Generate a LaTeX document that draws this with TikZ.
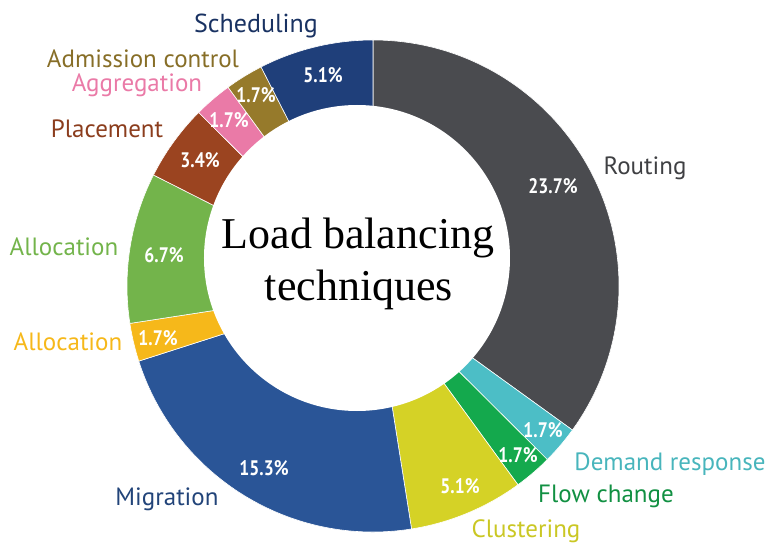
\documentclass[tikz,border=0pt]{standalone}
\usepackage{fontspec}
\setmainfont{Liberation Serif}
\newfontfamily\labelfont{PT Sans}
\newfontfamily\pctfont{PT Sans}[FakeStretch=0.84]
\usetikzlibrary{positioning}
% segment colours
\definecolor{routingc}{HTML}{4A4B4F}
\definecolor{demandc}{HTML}{4CBEC6}
\definecolor{flowc}{HTML}{14A94D}
\definecolor{clusterc}{HTML}{D5D226}
\definecolor{migrationc}{HTML}{2A5597}
\definecolor{allocyc}{HTML}{F6B81A}
\definecolor{allocgc}{HTML}{73B44B}
\definecolor{placementc}{HTML}{9B4420}
\definecolor{aggregc}{HTML}{EA7AA7}
\definecolor{admissc}{HTML}{967A2B}
\definecolor{schedc}{HTML}{1F3F7A}
\tikzset{
    %Define style for ring pieces
    segment/.style={
             draw=white, line width=0.6pt},
    %Define style for percent labels
    pctlabel/.style={
             anchor=base, inner sep=0pt,
             text=white,
             font=\pctfont\bfseries\fontsize{21}{21}\selectfont},
    %Define style for category labels
    catlabel/.style={
             anchor=base, inner sep=0pt,
             font=\labelfont\fontsize{25}{25}\selectfont},
    %Define style for the centre text
    titletext/.style={
             anchor=base, inner sep=0pt,
             font=\fontsize{44}{44}\selectfont}
}
\begin{document}
\begin{tikzpicture}[x=1pt, y=1pt]
 \useasboundingbox (-373,-258) rectangle (396,286);
 % ring, clockwise from the top
 \foreach \s/\e/\col in {90/-35.84/routingc, -35.84/-44.87/demandc,
     -44.87/-53.90/flowc, -53.90/-80.98/clusterc, -80.98/-162.22/migrationc,
     -162.22/-171.25/allocyc, -171.25/-206.82/allocgc, -206.82/-224.87/placementc,
     -224.87/-233.90/aggregc, -233.90/-242.93/admissc, -242.93/-270/schedc}
   \filldraw[segment, fill=\col] (0,0) -- (\s:246)
       arc[start angle=\s, end angle=\e, radius=246pt] -- cycle;
 \fill[white] (-16,28) circle[radius=153pt];
 % centre text
 \node[titletext] (load) at (-15,38) {Load balancing};
 \node[titletext] (tech) at (-14,-14) {techniques};
 % percentages
 \node[pctlabel] (prouting) at (180,93) {23.7\%};
 \node[pctlabel] (pdemand) at (170,-151) {1.7\%};
 \node[pctlabel] (pflow) at (145,-176) {1.7\%};
 \node[pctlabel] (pcluster) at (87,-207) {5.1\%};
 \node[pctlabel] (pmigration) at (-109,-189) {15.3\%};
 \node[pctlabel] (pallocy) at (-215,-59) {1.7\%};
 \node[pctlabel] (pallocg) at (-209,24) {6.7\%};
 \node[pctlabel] (pplacement) at (-173,119) {3.4\%};
 \node[pctlabel] (paggreg) at (-144,158) {1.7\%};
 \node[pctlabel] (padmiss) at (-117,183) {1.7\%};
 \node[pctlabel] (psched) at (-50,203) {5.1\%};
 % category names
 \node[catlabel, text=routingc!85!black] (routing) at (272,112) {Routing};
 \node[catlabel, text=demandc!95!black] (demand) at (297,-184) {Demand response};
 \node[catlabel, text=flowc!85!black] (flow) at (233,-216) {Flow change};
 \node[catlabel, text=clusterc!95!black] (cluster) at (153,-251) {Clustering};
 \node[catlabel, text=migrationc!80!black] (migration) at (-206,-219) {Migration};
 \node[catlabel, text=allocyc] (allocy) at (-305,-64) {Allocation};
 \node[catlabel, text=allocgc] (allocg) at (-309,31) {Allocation};
 \node[catlabel, text=placementc!90!black] (placement) at (-266,149) {Placement};
 \node[catlabel, text=aggregc] (aggreg) at (-236,194) {Aggregation};
 \node[catlabel, text=admissc!90!black] (admiss) at (-230,218) {Admission control};
 \node[catlabel, text=schedc!80!black, font=\labelfont\fontsize{26}{26}\selectfont] (sched) at (-117,253) {Scheduling};
\end{tikzpicture}
\end{document}
